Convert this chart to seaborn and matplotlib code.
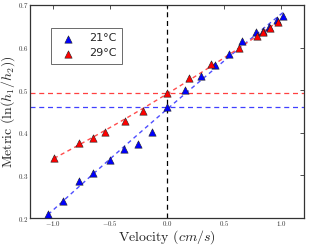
import numpy as np
import pandas as pd
import matplotlib
matplotlib.use('Agg')
import matplotlib.pyplot as plt
import seaborn as sns

# velocity (cm/s) and metric values
vel_21 = [-1.04, -0.91, -0.77, -0.65, -0.50, -0.376, -0.254, -0.131, 0.0,
          0.157, 0.295, 0.423, 0.542, 0.659, 0.779, 0.840, 0.892, 0.969, 1.017]
met_21 = [0.209, 0.241, 0.286, 0.305, 0.336, 0.362, 0.374, 0.403, 0.460,
          0.500, 0.533, 0.558, 0.585, 0.615, 0.637, 0.639, 0.649, 0.665, 0.675]
vel_29 = [-0.989, -0.77, -0.65, -0.54, -0.367, -0.207, 0.0,
          0.195, 0.385, 0.633, 0.790, 0.843, 0.901, 0.974]
met_29 = [0.342, 0.377, 0.388, 0.401, 0.428, 0.451, 0.494,
          0.528, 0.561, 0.600, 0.628, 0.636, 0.645, 0.659]
labels = ['21°C', '29°C']
colors = ['#0000ff', '#ff0000']
fit_colors = ['#4d4dff', '#ff4d4d']

sns.set_style('white')
plt.rcParams['mathtext.fontset'] = 'cm'
plt.rcParams['axes.formatter.use_mathtext'] = True

fig = plt.figure(figsize=(3.11, 2.45), dpi=100)
ax = fig.add_axes([0.096, 0.110, 0.881, 0.870])

# reference lines at zero velocity
ax.axvline(0, color='black', ls='--', lw=0.9, dashes=(4, 3), zorder=1)

for vel, met, lab, c, fc in zip([vel_21, vel_29], [met_21, met_29], labels, colors, fit_colors):
    df = pd.DataFrame({'v': vel, 'm': met})
    coef = np.polyfit(df['v'], df['m'], 2)
    xs = np.linspace(min(vel), max(vel), 100)
    fit = pd.DataFrame({'v': xs, 'm': np.polyval(coef, xs)})
    sns.lineplot(data=fit, x='v', y='m', ax=ax, color=fc, lw=1.0,
                 dashes=False, zorder=2).lines[-1].set_dashes((3, 2.5))
    ax.axhline(met[vel.index(0.0)], color=c, ls='--', lw=0.9, dashes=(4, 3), alpha=0.75, zorder=1)
    sns.scatterplot(data=df, x='v', y='m', ax=ax, marker='^', s=28, color=c,
                    edgecolor='#222222', linewidth=0.4, label=lab, zorder=3)

ax.set_xlim(-1.2, 1.2)
ax.set_ylim(0.2, 0.7)
ax.set_xticks([-1.0, -0.5, 0.0, 0.5, 1.0])
ax.set_yticks([0.2, 0.3, 0.4, 0.5, 0.6, 0.7])
for t in ax.get_xticklabels() + ax.get_yticklabels():
    t.set_fontfamily('cmr10')
ax.tick_params(direction='in', length=3, width=0.6, labelsize=5, top=True, right=True,
               colors='#333333', labelcolor='#333333', pad=1)
for s in ax.spines.values():
    s.set_color('#333333')
    s.set_linewidth(0.9)

ax.set_xlabel('Velocity $(cm/s)$', fontfamily='cmr10', fontsize=10)
ax.set_ylabel(r'Metric $(\ln(h_1/h_2))$', fontfamily='cmr10', fontsize=10)
ax.xaxis.set_label_coords(0.5, -0.047)
ax.yaxis.set_label_coords(-0.046, 0.5)

leg = ax.legend(loc='upper left', bbox_to_anchor=(0.077, 0.892), fontsize=8, fancybox=False,
                frameon=True, handletextpad=0.9, borderpad=0.5, labelspacing=0.45,
                borderaxespad=0)
leg.get_frame().set_edgecolor('#444444')
leg.get_frame().set_linewidth(0.7)

fig.savefig('out.png', dpi=100)
